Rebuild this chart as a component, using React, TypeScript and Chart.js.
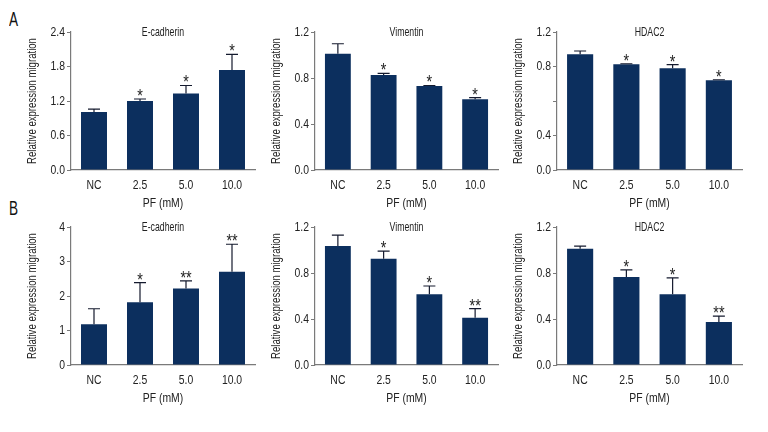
import React, { useEffect, useRef } from "react";
import { Chart, registerables } from "chart.js";

Chart.register(...registerables);

const categories = ["NC", "2.5", "5.0", "10.0"];

const aEcadMean = [1.01, 1.2, 1.33, 1.74];
const aEcadErr = [1.06, 1.235, 1.47, 2.01];
const aEcadStars = ["", "*", "*", "*"];

const aVimMean = [1.01, 0.826, 0.73, 0.615];
const aVimErr = [1.098, 0.84, 0.735, 0.63];
const aVimStars = ["", "*", "*", "*"];

const aHdacMean = [1.006, 0.919, 0.884, 0.78];
const aHdacErr = [1.035, 0.924, 0.916, 0.785];
const aHdacStars = ["", "*", "*", "*"];

const bEcadMean = [1.18, 1.82, 2.22, 2.7];
const bEcadErr = [1.63, 2.39, 2.44, 3.5];
const bEcadStars = ["", "*", "**", "**"];

const bVimMean = [1.034, 0.923, 0.615, 0.41];
const bVimErr = [1.13, 0.99, 0.687, 0.49];
const bVimStars = ["", "*", "*", "**"];

const bHdacMean = [1.01, 0.766, 0.615, 0.373];
const bHdacErr = [1.034, 0.827, 0.757, 0.425];
const bHdacStars = ["", "*", "*", "**"];

// tick labels as printed in the figure (HDAC2 A panel has mislabelled ticks)
const ticksEcadA: Record<string, string> = { "0": "0.0", "0.6": "0.6", "1.2": "1.2", "1.8": "1.8", "2.4": "2.4" };
const ticks12: Record<string, string> = { "0": "0.0", "0.4": "0.4", "0.8": "0.8", "1.2": "1.2" };
const ticksHdacA: Record<string, string> = { "0": "0.0", "0.3": "0.4", "0.6": "", "0.9": "0.8", "1.2": "1.2" };
const ticksEcadB: Record<string, string> = { "0": "0", "1": "1", "2": "2", "3": "3", "4": "4" };

const FONT = "'Liberation Sans', Arial, sans-serif";
const SQUEEZE = 0.8;
const BAR = "#0c2f5e";
const AXIS = "#7a7a7a";
const TEXT = "#222222";

type PanelProps = {
  left: number;
  top: number;
  width: number;
  title: string;
  mean: number[];
  err: number[];
  stars: string[];
  max: number;
  step: number;
  labels: Record<string, string>;
};

function squeezeText(ctx: any) {
  const orig = ctx.fillText;
  ctx.fillText = function (text: string, x: number, y: number, maxWidth?: number) {
    const w = this.measureText(text).width * SQUEEZE;
    const mw = maxWidth !== undefined ? Math.min(maxWidth, w) : w;
    if (mw <= 0) return;
    orig.call(this, text, x, y, mw);
  };
}

function Panel(p: PanelProps) {
  const ref = useRef<HTMLCanvasElement | null>(null);
  useEffect(() => {
    if (!ref.current) return;
    const c2d = ref.current.getContext("2d");
    if (c2d) squeezeText(c2d);
    const overlay = {
      id: "overlay",
      afterDatasetsDraw(chart: any) {
        const ctx = chart.ctx;
        const xs = chart.scales.x;
        const ys = chart.scales.y;
        const area = chart.chartArea;
        ctx.save();
        ctx.strokeStyle = "#141a2e";
        ctx.lineWidth = 1.2;
        p.mean.forEach((m, i) => {
          const x = xs.getPixelForValue(i);
          const y0 = ys.getPixelForValue(m);
          const y1 = ys.getPixelForValue(p.err[i]);
          ctx.beginPath();
          ctx.moveTo(x, y0);
          ctx.lineTo(x, y1);
          ctx.moveTo(x - 6, y1);
          ctx.lineTo(x + 6, y1);
          ctx.stroke();
          if (p.stars[i]) {
            ctx.fillStyle = TEXT;
            ctx.font = `18px ${FONT}`;
            ctx.textAlign = "center";
            ctx.textBaseline = "alphabetic";
            ctx.fillText(p.stars[i], x, y1 + 3);
          }
        });
        ctx.fillStyle = TEXT;
        ctx.font = `12.5px ${FONT}`;
        ctx.textAlign = "center";
        ctx.textBaseline = "middle";
        const tw = ctx.measureText(p.title).width * 0.7;
        ctx.fillText(p.title, (area.left + area.right) / 2, area.top + 1, tw);
        ctx.restore();
      },
    };
    const chart = new Chart(ref.current, {
      type: "bar",
      data: {
        labels: categories,
        datasets: [
          {
            data: p.mean,
            backgroundColor: BAR,
            borderWidth: 0,
            categoryPercentage: 1,
            barPercentage: 0.565,
          },
        ],
      },
      options: {
        animation: false,
        responsive: false,
        devicePixelRatio: 1,
        layout: { padding: { top: 10, right: 4, left: 0, bottom: 0 } },
        plugins: { legend: { display: false }, tooltip: { enabled: false }, title: { display: false } },
        scales: {
          x: {
            grid: { display: false, drawTicks: false },
            border: { display: true, color: AXIS, width: 1.2 },
            ticks: { color: TEXT, font: { family: FONT, size: 13 }, padding: 8, maxRotation: 0 },
            title: { display: true, text: "PF (mM)", color: TEXT, font: { family: FONT, size: 13 }, padding: 0 },
            afterFit: (s: any) => {
              s.height = 41;
            },
          },
          y: {
            min: 0,
            max: p.max,
            grid: { display: true, drawOnChartArea: false, drawTicks: true, tickLength: 4, color: AXIS },
            border: { display: true, color: AXIS, width: 1.2 },
            ticks: {
              stepSize: p.step,
              color: TEXT,
              font: { family: FONT, size: 13 },
              padding: 2,
              callback: (v: any) => {
                const k = String(Math.round(Number(v) * 10) / 10);
                return p.labels[k] ?? "";
              },
            },
            title: {
              display: true,
              text: "Relative expression migration",
              color: TEXT,
              font: { family: FONT, size: 12 },
              padding: { top: 4, bottom: 0 },
            },
            afterFit: (s: any) => {
              s.width = 50;
            },
          },
        },
      },
      plugins: [overlay],
    });
    return () => chart.destroy();
  }, []);
  return (
    <canvas
      ref={ref}
      width={p.width}
      height={189}
      style={{ position: "absolute", left: p.left, top: p.top, width: p.width, height: 189 }}
    />
  );
}

export default function App() {
  const label: React.CSSProperties = {
    position: "absolute",
    fontFamily: FONT,
    fontSize: 20,
    color: "#111",
    lineHeight: "20px",
    transform: "scaleX(0.68)",
    transformOrigin: "left top",
  };
  return (
    <div style={{ position: "absolute", left: 0, top: 0, width: 768, height: 432, background: "#fff" }}>
      <div style={{ ...label, left: 9, top: 9 }}>A</div>
      <div style={{ ...label, left: 9, top: 198 }}>B</div>
      <Panel left={21} top={22} width={238} title="E-cadherin" mean={aEcadMean} err={aEcadErr} stars={aEcadStars} max={2.4} step={0.6} labels={ticksEcadA} />
      <Panel left={265} top={22} width={237} title="Vimentin" mean={aVimMean} err={aVimErr} stars={aVimStars} max={1.2} step={0.4} labels={ticks12} />
      <Panel left={507} top={22} width={239} title="HDAC2" mean={aHdacMean} err={aHdacErr} stars={aHdacStars} max={1.2} step={0.3} labels={ticksHdacA} />
      <Panel left={21} top={217} width={238} title="E-cadherin" mean={bEcadMean} err={bEcadErr} stars={bEcadStars} max={4} step={1} labels={ticksEcadB} />
      <Panel left={265} top={217} width={237} title="Vimentin" mean={bVimMean} err={bVimErr} stars={bVimStars} max={1.2} step={0.4} labels={ticks12} />
      <Panel left={507} top={217} width={239} title="HDAC2" mean={bHdacMean} err={bHdacErr} stars={bHdacStars} max={1.2} step={0.4} labels={ticks12} />
    </div>
  );
}
